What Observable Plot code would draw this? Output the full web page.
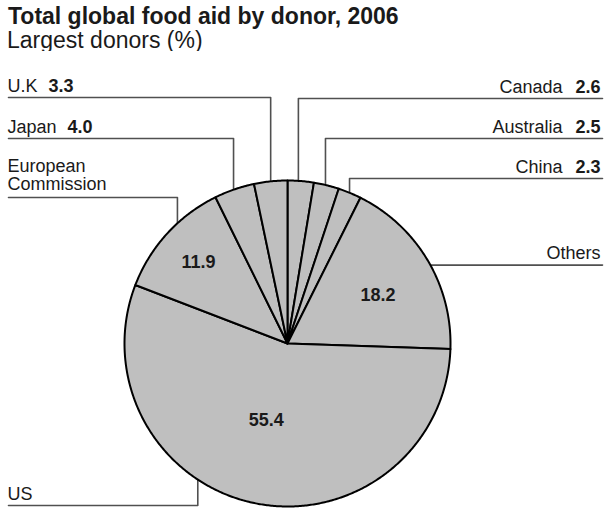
<!DOCTYPE html>
<html><head><meta charset="utf-8">
<script src="https://cdn.jsdelivr.net/npm/d3@7"></script>
<script src="https://cdn.jsdelivr.net/npm/@observablehq/plot@0.6"></script>
<style>
body{margin:0;background:#fff;}
#wrap{width:604px;height:511px;position:relative;overflow:hidden;font-family:"Liberation Sans",Arial,Helvetica,sans-serif;color:#1a1a1a;}
#title{position:absolute;left:8px;top:5px;font-size:23px;font-weight:bold;line-height:23px;white-space:nowrap;}
#subtitle{position:absolute;left:7px;top:29px;font-size:23px;line-height:22px;white-space:nowrap;}
#chart{position:absolute;left:0;top:51px;}
</style></head><body>
<div id="wrap">
  <div id="title">Total global food aid by donor, 2006</div>
  <div id="subtitle">Largest donors (%)</div>
  <div id="chart"></div>
</div>
<script>
// ---- data (clockwise from 12 o'clock) ----
const donors = ["Canada","Australia","China","Others","US","European Commission","Japan","U.K"];
const labelText = ["Canada","Australia","China","Others","US","European\nCommission","Japan","U.K"];
const shares = [2.6, 2.5, 2.3, 18.2, 55.4, 11.9, 4.0, 3.3];
const shareText = ["2.6","2.5","2.3","18.2","55.4","11.9","4.0","3.3"];
const valueOutside = [true, true, true, false, false, false, true, true];

// ---- layout ----
const W = 604, H = 460, CX = 287, CY = 292, R = 163, TOP = 51;
const FONT = "'Liberation Sans', Arial, Helvetica, sans-serif";
const FS = 18;
const callout = {
  "Canada":              {side: "right", row: 98,  frac: 0.41, gap: 13},
  "Australia":           {side: "right", row: 138, frac: 0.46, gap: 13},
  "China":               {side: "right", row: 178, frac: 0.49, gap: 13},
  "Others":              {side: "right", row: null, frac: 0.53, gap: 13},
  "US":                  {side: "left",  row: 505, frac: 0.61, gap: 11},
  "European Commission": {side: "left",  row: 197, frac: 0.62, gap: 11, lift: 8},
  "Japan":               {side: "left",  row: 138, frac: 0.48, gap: 11},
  "U.K":                 {side: "left",  row: 97,  frac: 0.50, gap: 11}
};
const inner = {"Others": [0.54, 0.63], "US": [0.52, 0.49], "European Commission": [0.5, 0.74]};
const LEFT_X = 8, RIGHT_X = 602, TEXT_L = 7, TEXT_R = 600;

const ctx = document.createElement("canvas").getContext("2d");
function measure(t, bold) { ctx.font = (bold ? "bold " : "") + FS + "px " + FONT; return ctx.measureText(t).width; }

const arcs = d3.pie().sort(null).startAngle(0).endAngle(2 * Math.PI)(shares);
const px = (x) => x - CX;
const py = (y) => y - TOP - CY;
const pt = (a, r) => [r * Math.sin(a), -r * Math.cos(a)];

const slicePts = [];
arcs.forEach((a, i) => {
  slicePts.push({k: i, x: 0, y: 0});
  const n = Math.max(2, Math.ceil((a.endAngle - a.startAngle) / (Math.PI / 360)));
  for (let j = 0; j <= n; j++) {
    const t = a.startAngle + (a.endAngle - a.startAngle) * j / n;
    const [x, y] = pt(t, R);
    slicePts.push({k: i, x, y});
  }
  slicePts.push({k: i, x: 0, y: 0});
});

const leaderPts = [], names = [], values = [];
arcs.forEach((a, i) => {
  const d = donors[i], c = callout[d];
  const ang = a.startAngle + (a.endAngle - a.startAngle) * c.frac;
  const [ex, ey] = pt(ang, R);
  let rowY;
  if (c.row == null) {
    rowY = ey;
    leaderPts.push({k: i, x: ex, y: ey}, {k: i, x: px(RIGHT_X), y: ey});
  } else {
    rowY = py(c.row);
    const mx = c.side === "left" ? px(LEFT_X) : px(RIGHT_X);
    leaderPts.push({k: i, x: mx, y: rowY}, {k: i, x: ex, y: rowY}, {k: i, x: ex, y: ey});
  }
  const ty = rowY - (c.lift || 6);
  const name = labelText[i];
  const vt = valueOutside[i] ? shareText[i] : null;
  if (c.side === "left") {
    names.push({t: name, x: px(TEXT_L), y: ty, anchor: "start"});
    if (vt) values.push({t: vt, x: px(TEXT_L) + measure(name, false) + c.gap, y: ty, anchor: "start"});
  } else {
    if (vt) {
      values.push({t: vt, x: px(TEXT_R), y: ty, anchor: "end"});
      names.push({t: name, x: px(TEXT_R) - measure(vt, true) - c.gap, y: ty, anchor: "end"});
    } else {
      names.push({t: name, x: px(TEXT_R), y: ty, anchor: "end"});
    }
  }
});

const innerLabels = [];
arcs.forEach((a, i) => {
  const f = inner[donors[i]];
  if (!f) return;
  const ang = a.startAngle + (a.endAngle - a.startAngle) * f[0];
  const [x, y] = pt(ang, R * f[1]);
  innerLabels.push({t: shareText[i], x, y});
});

const txt = (data, anchor, bold) => Plot.text(data.filter((d) => d.anchor === anchor), {
  x: "x", y: "y", text: "t", textAnchor: anchor, lineAnchor: "bottom", lineHeight: 1,
  fontSize: FS, fontWeight: bold ? "bold" : "normal", fill: "#1a1a1a", fontFamily: FONT
});

const chart = Plot.plot({
  width: W, height: H, margin: 0,
  style: {fontFamily: FONT, background: "#fff"},
  x: {axis: null, domain: [-CX, W - CX], range: [0, W]},
  y: {axis: null, domain: [-CY, H - CY], range: [0, H]},
  marks: [
    Plot.line(leaderPts, {x: "x", y: "y", z: "k", stroke: "#505050", strokeWidth: 1.6}),
    Plot.line(slicePts, {x: "x", y: "y", z: "k", fill: "#bfbfbf", stroke: "#000", strokeWidth: 2, strokeLinejoin: "round"}),
    Plot.text(innerLabels, {x: "x", y: "y", text: "t", fontSize: FS, fontWeight: "bold", fill: "#1a1a1a", fontFamily: FONT}),
    txt(names, "start", false),
    txt(names, "end", false),
    txt(values, "start", true),
    txt(values, "end", true)
  ]
});
document.getElementById("chart").appendChild(chart);
</script>
</body></html>
